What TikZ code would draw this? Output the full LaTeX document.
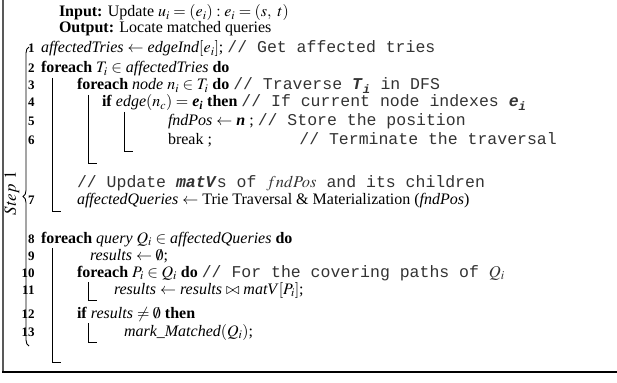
\documentclass[tikz,border=0pt]{standalone}
\usepackage{mathptmx}
\usepackage{fontspec}
\setmainfont{Liberation Serif}
\setmonofont{Liberation Mono}
\usetikzlibrary{decorations.pathreplacing}
\newcommand{\bsub}[2]{\textbf{\textit{#1}}\textsubscript{\textbf{\textit{#2}}}}
\newcommand{\bit}[1]{\textbf{\textit{#1}}}
\newcommand{\cmt}[1]{{\fontsize{16.5}{17.5}\selectfont\ttfamily\color{black!80}#1}}
\tikzset{
  txt/.style={anchor=base west, inner sep=0pt, outer sep=0pt},
  num/.style={anchor=base east, inner sep=0pt, outer sep=0pt, font=\bfseries\fontsize{13}{14}\selectfont},
  vbar/.style={line width=0.6pt},
  rule/.style={line width=1.3pt},
}
\begin{document}
\begin{tikzpicture}[x=1pt,y=-1pt,font=\fontsize{16}{17.5}\selectfont]
\useasboundingbox[fill=white] (0,0) rectangle (617,382);
% frame
\draw[rule, gray!70!black] (3,0) -- (3,372);
\draw[rule] (2.35,372) -- (617,372);
% step label and brace
\node[rotate=90, inner sep=0pt, font=\fontsize{17}{20}\selectfont] (step) at (12,193) {$Step\ 1$};
\draw[line width=0.9pt, decorate, decoration={brace, amplitude=6pt}] (29,346) -- (29,47);
% header
\node[txt] (in) at (59,17) {\textbf{Input:} Update $u_i = (e_i) : e_i = (s,\ t)$};
\node[txt] (out) at (59,33) {\textbf{Output:} Locate matched queries};
% line numbers
\node[num] (n1) at (34.5,53) {1};
\node[num] (n2) at (34.5,73) {2};
\node[num] (n3) at (34.5,90) {3};
\node[num] (n4) at (34.5,107) {4};
\node[num] (n5) at (34.5,126) {5};
\node[num] (n6) at (34.5,144) {6};
\node[num] (n7) at (34.5,204) {7};
\node[num] (n8) at (34.5,243) {8};
\node[num] (n9) at (34.5,260) {9};
\node[num] (n10) at (34.5,277) {10};
\node[num] (n11) at (34.5,294) {11};
\node[num] (n12) at (34.5,318) {12};
\node[num] (n13) at (34.5,336) {13};
% lines
\node[txt] (l1) at (41,53) {\textit{affectedTries} $\leftarrow$ \textit{edgeInd}$[e_i]$; \cmt{// Get affected tries}};
\node[txt] (l2) at (41,73) {\textbf{foreach} $T_i \in$ \textit{affectedTries} \textbf{do}};
\node[txt] (l3) at (77,90) {\textbf{foreach} \textit{node} $n_i \in T_i$ \textbf{do} \cmt{// Traverse \bsub{T}{i} in DFS}};
\node[txt] (l4) at (102,107) {\textbf{if} \textit{edge}$(n_c) =$ \bsub{e}{i} \textbf{then} \cmt{// If current node indexes \bsub{e}{i}}};
\node[txt] (l5) at (168,126) {\textit{fndPos} $\leftarrow$ \bit{n} ; \cmt{// Store the position}};
\node[txt] (l6) at (168,144) {break ;};
\node[anchor=base east, inner sep=0pt] (c6) at (557,144) {\cmt{// Terminate the traversal}};
\node[txt] (c7) at (77,187) {\cmt{// Update \bit{matV}s of $fndPos$ and its children}};
\node[txt] (l7) at (77,204) {\textit{affectedQueries} $\leftarrow$ Trie Traversal \& Materialization (\textit{fndPos})};
\node[txt] (l8) at (41,243) {\textbf{foreach} \textit{query} $Q_i \in$ \textit{affectedQueries} \textbf{do}};
\node[txt] (l9) at (90,260) {\textit{results} $\leftarrow \emptyset$;};
\node[txt] (l10) at (77,277) {\textbf{foreach} $P_i \in Q_i$ \textbf{do} \cmt{// For the covering paths of $Q_i$}};
\node[txt] (l11) at (114,294) {\textit{results} $\leftarrow$ \textit{results} $\bowtie$ \textit{matV}$[P_i]$;};
\node[txt] (l12) at (77,318) {\textbf{if} \textit{results} $\neq \emptyset$ \textbf{then}};
\node[txt] (l13) at (124,336) {\textit{mark\_Matched}$(Q_i)$;};
% block bars
\draw[vbar] (52,78) -- (52,211) -- (61,211);
\draw[vbar] (88,95) -- (88,163) -- (97,163);
\draw[vbar] (124,112) -- (124,151) -- (133,151);
\draw[vbar] (52,248) -- (52,362) -- (61,362);
\draw[vbar] (88,282) -- (88,300) -- (97,300);
\draw[vbar] (88,323) -- (88,342) -- (97,342);
\end{tikzpicture}
\end{document}
